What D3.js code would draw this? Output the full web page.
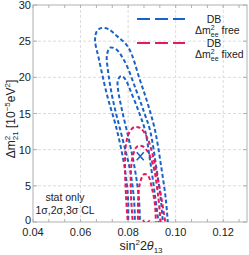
<!DOCTYPE html>
<html>
<head>
<meta charset="utf-8">
<script src="https://cdn.jsdelivr.net/npm/d3@7"></script>
<style>
  body { margin: 0; background: #fff; }
  text { font-family: "Liberation Sans", Arial, sans-serif; fill: #222; }
</style>
</head>
<body>
<svg id="chart" width="249" height="255"></svg>
<script>
// contour points: [sin^2 2theta13, dm2_21 (1e-5 eV^2)]
var blue3 = [[0.0800,-0.6],[0.0800,3.0],[0.0787,7.2],[0.0753,12.7],[0.0711,17.6],[0.0678,22.4],[0.0661,25.2],[0.0669,26.4],[0.0686,26.8],[0.0715,26.7],[0.0753,25.7],[0.0800,24.2],[0.0850,19.6],[0.0884,16.2],[0.0913,12.7],[0.0938,7.9],[0.0959,3.0],[0.0968,-0.6]];
var blue2 = [[0.0829,-0.6],[0.0825,3.0],[0.0808,7.2],[0.0778,11.3],[0.0736,16.9],[0.0715,21.0],[0.0711,23.1],[0.0724,24.1],[0.0749,23.9],[0.0787,22.1],[0.0833,18.3],[0.0867,15.2],[0.0892,12.7],[0.0917,7.9],[0.0938,3.0],[0.0947,-0.6]];
var blue1 = [[0.0850,-0.6],[0.0846,3.0],[0.0829,7.2],[0.0804,11.3],[0.0774,15.5],[0.0757,18.5],[0.0757,19.6],[0.0770,20.2],[0.0787,19.8],[0.0808,18.3],[0.0842,15.5],[0.0871,12.7],[0.0892,8.6],[0.0913,3.7],[0.0930,-0.6]];
var red3 = [[0.0800,-0.6],[0.0791,3.7],[0.0787,7.9],[0.0791,10.7],[0.0804,12.3],[0.0825,13.1],[0.0850,13.0],[0.0875,12.0],[0.0896,10.2],[0.0917,7.2],[0.0938,3.7],[0.0959,-0.6]];
var red2 = [[0.0821,-0.6],[0.0812,3.7],[0.0812,7.2],[0.0821,9.3],[0.0837,10.4],[0.0858,10.5],[0.0879,9.9],[0.0905,7.9],[0.0926,3.7],[0.0938,-0.6]];
var red1 = [[0.0842,-0.6],[0.0842,3.0],[0.0850,5.4],[0.0867,6.6],[0.0884,6.4],[0.0900,4.7],[0.0913,2.4],[0.0917,-0.6]];
var bestBlue = [0.0851, 9.1];
var bestRed = [0.0876, -0.3];

var xTicks = [0.04, 0.06, 0.08, 0.10, 0.12];
var yTicks = [0, 5, 10, 15, 20, 25, 30];

var blue = "#1a62c6", red = "#e8185c";

var svg = d3.select("#chart");
var x = d3.scaleLinear().domain([0.04, 0.13]).range([33, 247]);
var y = d3.scaleLinear().domain([0, 30]).range([222, 5]);

svg.append("defs").append("clipPath").attr("id", "clip")
  .append("rect").attr("x", 33).attr("y", 5).attr("width", 214).attr("height", 217);

// grid
svg.append("g").selectAll("line").data(xTicks.slice(1)).enter().append("line")
  .attr("x1", d => x(d)).attr("x2", d => x(d)).attr("y1", 5).attr("y2", 222)
  .style("stroke", "#dcdcdc").style("stroke-dasharray", "3,2").style("stroke-width", 1);
svg.append("g").selectAll("line").data(yTicks.slice(1, -1)).enter().append("line")
  .attr("y1", d => y(d)).attr("y2", d => y(d)).attr("x1", 33).attr("x2", 247)
  .style("stroke", "#dcdcdc").style("stroke-dasharray", "3,2").style("stroke-width", 1);

// frame and ticks
svg.append("rect").attr("x", 33).attr("y", 5).attr("width", 214).attr("height", 217)
  .style("fill", "none").style("stroke", "#b0b0b0").style("stroke-width", 1);

var minorX = d3.range(0.04, 0.1301, 0.02 / 3);
var tk = svg.append("g").style("stroke", "#b0b0b0");
minorX.forEach(function (d) {
  tk.append("line").attr("x1", x(d)).attr("x2", x(d)).attr("y1", 222).attr("y2", 219);
  tk.append("line").attr("x1", x(d)).attr("x2", x(d)).attr("y1", 5).attr("y2", 8);
});
yTicks.forEach(function (d) {
  tk.append("line").attr("x1", 33).attr("x2", 37).attr("y1", y(d)).attr("y2", y(d));
  tk.append("line").attr("x1", 247).attr("x2", 243).attr("y1", y(d)).attr("y2", y(d));
});

// tick labels
svg.append("g").selectAll("text").data(xTicks).enter().append("text")
  .attr("x", d => x(d)).attr("y", 236).attr("text-anchor", "middle")
  .style("font-size", "11px").text(d => d.toFixed(2));
svg.append("g").selectAll("text").data(yTicks).enter().append("text")
  .attr("x", 31).attr("y", d => y(d) + (d === 0 ? 2 : 4)).attr("text-anchor", "end")
  .style("font-size", "11px").text(d => d);

// axis titles
var xl = svg.append("text").attr("x", 141).attr("y", 250).attr("text-anchor", "middle")
  .style("font-size", "12.5px");
xl.append("tspan").text("sin");
xl.append("tspan").attr("dy", -5).style("font-size", "8px").text("2");
xl.append("tspan").attr("dy", 5).text("2");
xl.append("tspan").style("font-style", "italic").text("θ");
xl.append("tspan").attr("dy", 3).style("font-size", "8px").text("13");

var yl = svg.append("text").attr("transform", "translate(15,119) rotate(-90)")
  .attr("text-anchor", "middle").style("font-size", "12px");
yl.append("tspan").text("Δm");
yl.append("tspan").attr("dy", -5).style("font-size", "8px").text("2");
yl.append("tspan").attr("dx", -4.5).attr("dy", 8).style("font-size", "8px").text("21");
yl.append("tspan").attr("dy", -3).text(" [10");
yl.append("tspan").attr("dy", -5).style("font-size", "8px").text("−5");
yl.append("tspan").attr("dy", 5).text("eV");
yl.append("tspan").attr("dy", -5).style("font-size", "8px").text("2");
yl.append("tspan").attr("dy", 5).text("]");

// contours
var line = d3.line().x(d => x(d[0])).y(d => y(d[1])).curve(d3.curveCatmullRom.alpha(0.5));
var plot = svg.append("g").attr("clip-path", "url(#clip)");
var contours = [
  { pts: blue3, c: blue }, { pts: blue2, c: blue }, { pts: blue1, c: blue },
  { pts: red3, c: red }, { pts: red2, c: red }, { pts: red1, c: red }
];
plot.selectAll("path").data(contours).enter().append("path")
  .attr("d", d => line(d.pts))
  .style("fill", "none").style("stroke", d => d.c)
  .style("stroke-width", 2).style("stroke-dasharray", "4,2.5");

// best fit markers
[[bestBlue, blue], [bestRed, red]].forEach(function (b) {
  var cx = x(b[0][0]), cy = y(b[0][1]);
  plot.append("path")
    .attr("d", `M${cx - 3.5},${cy - 4}L${cx + 3.5},${cy + 4}M${cx + 3.5},${cy - 4}L${cx - 3.5},${cy + 4}`)
    .style("stroke", b[1]).style("stroke-width", 1.6).style("fill", "none");
});

// legend
var legend = svg.append("g");
[[19, blue, "free", 34, 23], [43, red, "fixed", 58, 47]].forEach(function (l) {
  legend.append("line").attr("x1", 137).attr("x2", 185).attr("y1", l[0]).attr("y2", l[0])
    .style("stroke", l[1]).style("stroke-width", 2).style("stroke-dasharray", "13,5");
  legend.append("text").attr("x", 214).attr("y", l[4]).attr("text-anchor", "middle")
    .style("font-size", "10.5px").text("DB");
  var t = legend.append("text").attr("x", 195).attr("y", l[3]).style("font-size", "10.5px");
  t.append("tspan").text("Δm");
  t.append("tspan").attr("dy", -4).style("font-size", "7px").text("2");
  t.append("tspan").attr("dx", -3.9).attr("dy", 7).style("font-size", "7px").text("ee");
  t.append("tspan").attr("dy", -3).text(" " + l[2]);
});

// annotation
svg.append("text").attr("x", 65).attr("y", 201).attr("text-anchor", "middle")
  .style("font-size", "10.5px").text("stat only");
svg.append("text").attr("x", 65).attr("y", 214).attr("text-anchor", "middle")
  .style("font-size", "10.5px").text("1σ,2σ,3σ CL");
</script>
</body>
</html>
